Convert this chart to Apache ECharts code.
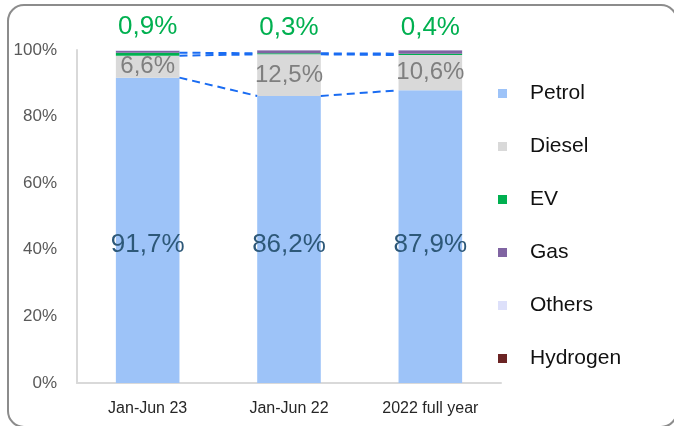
<!DOCTYPE html>
<html>
<head>
<meta charset="utf-8">
<script src="https://cdn.jsdelivr.net/npm/echarts@6/dist/echarts.min.js"></script>
<style>
  html, body { margin: 0; padding: 0; background: #fff; }
  #chart { width: 674px; height: 426px; }
</style>
</head>
<body>
<div id="chart"></div>
<script>
const categories = ['Jan-Jun 23', 'Jan-Jun 22', '2022 full year']
const petrol = [91.7, 86.2, 87.9]
const diesel = [6.6, 12.5, 10.6]
const ev = [0.9, 0.3, 0.4]
const gas = [0.6, 0.9, 1.0]
const others = [0.2, 0.1, 0.1]
const hydrogen = [0, 0, 0]

const colors = {
  Petrol: '#9dc3f8',
  Diesel: '#d9d9d9',
  EV: '#00b050',
  Gas: '#8064a2',
  Others: '#dde0fa',
  Hydrogen: '#6b2424'
}

const BAR_RATIO = 0.45
const fmt = v => v.toFixed(1).replace('.', ',') + '%'
const font = 'Liberation Sans, Arial, sans-serif'

// cumulative tops for the dashed series lines
const cumPetrol = petrol.slice()
const cumDiesel = petrol.map((v, i) => +(v + diesel[i]).toFixed(1))
const cumEv = petrol.map((v, i) => +(v + diesel[i] + ev[i]).toFixed(1))

function barSeries(name, data, label) {
  return {
    name: name,
    type: 'bar',
    stack: 'share',
    barWidth: (BAR_RATIO * 100) + '%',
    itemStyle: { color: colors[name] },
    label: label || { show: false },
    data: data
  }
}

// dashed line from the right edge of one bar to the left edge of the next
function connector(values) {
  return {
    type: 'custom',
    silent: true,
    z: 5,
    data: values.slice(0, -1).map((v, i) => [i, v, values[i + 1]]),
    renderItem: (params, api) => {
      const i = api.value(0)
      const half = api.size([1, 0])[0] * BAR_RATIO / 2
      const a = api.coord([i, api.value(1)])
      const b = api.coord([i + 1, api.value(2)])
      return {
        type: 'line',
        shape: { x1: a[0] + half, y1: a[1], x2: b[0] - half, y2: b[1] },
        style: { stroke: '#1a6cf2', lineWidth: 2, lineDash: [8, 5] }
      }
    }
  }
}

const chart = echarts.init(document.getElementById('chart'))

const option = {
  animation: false,
  textStyle: { fontFamily: font },
  graphic: [{
    type: 'rect',
    shape: { x: 8, y: 5, width: 669, height: 422, r: 16 },
    style: { fill: 'none', stroke: '#8c8c8c', lineWidth: 2 },
    silent: true
  }],
  legend: {
    orient: 'vertical',
    left: 493,
    top: 78,
    itemWidth: 9,
    itemHeight: 9,
    itemGap: 32,
    icon: 'rect',
    data: ['Petrol', 'Diesel', 'EV', 'Gas', 'Others', 'Hydrogen'],
    textStyle: {
      fontFamily: font,
      fontSize: 21,
      color: '#111',
      lineHeight: 20,
      padding: [0, 0, 0, 18]
    }
  },
  grid: { left: 77, right: 173, top: 50, bottom: 43 },
  xAxis: {
    type: 'category',
    data: categories,
    axisLine: { lineStyle: { color: '#d9d9d9', width: 2 } },
    axisTick: { show: false },
    axisLabel: { color: '#262626', fontSize: 16, margin: 18, fontFamily: font }
  },
  yAxis: {
    type: 'value',
    min: 0,
    max: 100,
    interval: 20,
    axisLine: { show: true, lineStyle: { color: '#d9d9d9', width: 2 } },
    axisTick: { show: false },
    splitLine: { show: false },
    axisLabel: { color: '#595959', fontSize: 17, margin: 20, formatter: '{value}%', fontFamily: font }
  },
  series: [
    barSeries('Petrol', petrol, {
      show: true,
      position: 'insideBottom',
      distance: 125,
      color: '#2d5878',
      fontSize: 26,
      fontFamily: font,
      formatter: p => fmt(p.value)
    }),
    barSeries('Diesel', diesel, {
      show: true,
      position: 'inside',
      color: '#7f7f7f',
      fontSize: 24,
      fontFamily: font,
      formatter: p => fmt(p.value)
    }),
    barSeries('EV', ev, {
      show: true,
      position: 'top',
      distance: 13,
      color: '#00b050',
      fontSize: 26,
      fontFamily: font,
      formatter: p => fmt(p.value)
    }),
    barSeries('Gas', gas),
    barSeries('Others', others),
    barSeries('Hydrogen', hydrogen),
    connector(cumPetrol),
    connector(cumDiesel),
    connector(cumEv)
  ]
}

chart.setOption(option)
window.addEventListener('resize', () => chart.resize())
</script>
</body>
</html>
